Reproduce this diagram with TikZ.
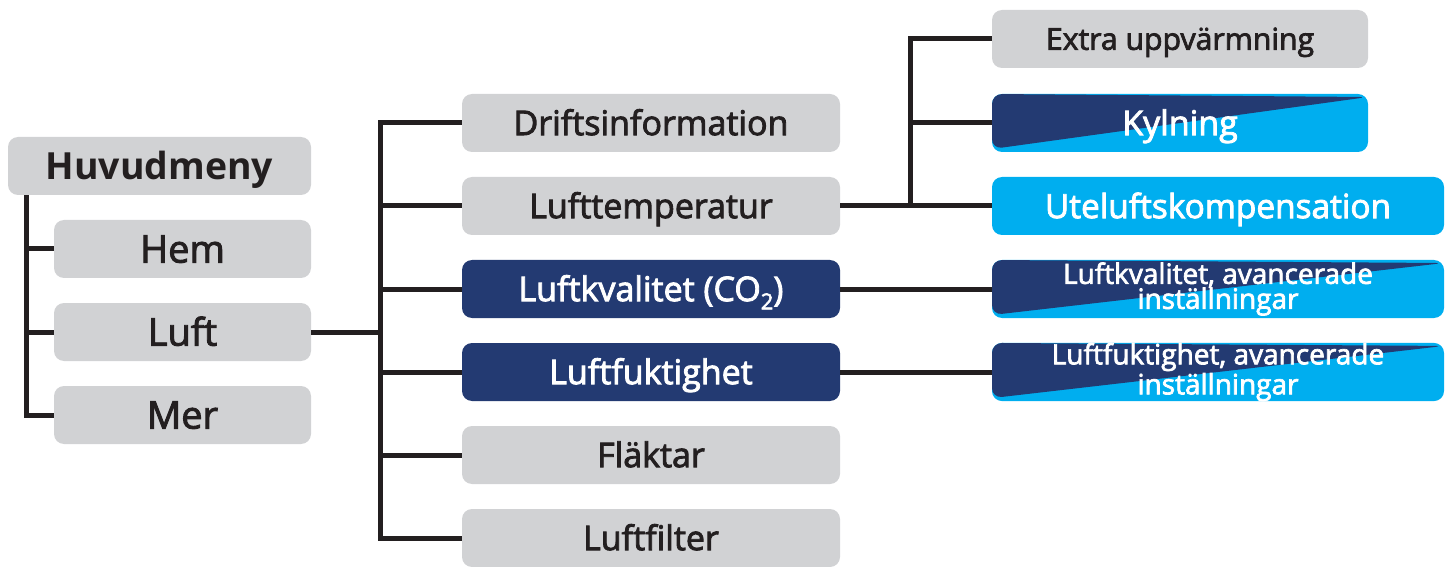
\documentclass[tikz,border=0pt]{standalone}
\usepackage{fontspec}
\setmainfont{Open Sans}
\newfontfamily\semib{Open Sans}[FakeBold=2.5]
\usetikzlibrary{positioning}
\definecolor{boxgray}{HTML}{D1D2D4}
\definecolor{navy}{HTML}{233A72}
\definecolor{cyanblue}{HTML}{00AEEF}
\definecolor{ink}{HTML}{231F20}

\begin{document}
\begin{tikzpicture}[x=0.5pt, y=-0.5pt,
    menubox/.style={rectangle, rounded corners=5pt, fill=boxgray, text=ink,
        minimum height=29pt, inner sep=0pt, align=center, text depth=0pt},
    darkbox/.style={menubox, fill=navy, text=white},
    lightbox/.style={menubox, fill=cyanblue, text=white},
    splitbox/.style={menubox, fill=cyanblue, text=white,
        path picture={\fill[navy] ([yshift=1.5pt]path picture bounding box.south west)
            -- ([yshift=-1.5pt]path picture bounding box.north east)
            -- (path picture bounding box.north west) -- cycle;}},
    twoline/.style={text height=, text depth=},
    bigtxt/.style={font=\fontsize{19}{20}\semib, text height=13.6pt},
    midtxt/.style={font=\fontsize{17}{18}\semib, text height=12.1pt},
    link/.style={draw=ink, line width=2.5pt}]

    % Fix the canvas to the reference size
    \useasboundingbox (0,0) rectangle (1453,567);

    % Main menu column
    \node[menubox, minimum width=151.5pt, font=\fontsize{18.7}{20}\bfseries, text height=13.4pt] (huv) at (159.5,166) {Huvudmeny};
    \node[menubox, minimum width=128.5pt, bigtxt] (hem) at (182.5,249) {Hem};
    \node[menubox, minimum width=128.5pt, bigtxt] (luft) at (182.5,332) {Luft};
    \node[menubox, minimum width=128.5pt, bigtxt] (mer) at (182.5,415) {Mer};

    % Spine of the main menu
    \draw[link] ([xshift=9.5pt]huv.south west) |- (mer.west);
    \foreach \n in {hem, luft}
        \draw[link] ([xshift=9.5pt]huv.south west |- \n.west) -- (\n.west);

    % Sub menu of Luft
    \node[menubox, minimum width=189pt, midtxt] (drift) at (651,123) {Driftsinformation};
    \node[menubox, minimum width=189pt, midtxt] (temp) at (651,206) {Lufttemperatur};
    \node[darkbox, minimum width=189pt, midtxt] (kval) at (651,289)
        {Luftkvalitet (CO{\fontsize{11}{11}\selectfont\raisebox{-0.7ex}{2}})};
    \node[darkbox, minimum width=189pt, midtxt] (fukt) at (651,372) {Luftfuktighet};
    \node[menubox, minimum width=189pt, midtxt] (flakt) at (651,455) {Fläktar};
    \node[menubox, minimum width=189pt, midtxt] (filter) at (651,538) {Luftfilter};

    \coordinate (luftsp) at (380,332);
    \draw[link] (luft.east) -- (luftsp);
    \draw[link] (drift.west) -| (luftsp |- filter.west) -- (filter.west);
    \foreach \n in {temp, kval, fukt, flakt}
        \draw[link] (luftsp |- \n.west) -- (\n.west);

    % Sub menu of Lufttemperatur
    \node[menubox, minimum width=188pt, font=\fontsize{15.1}{16}\semib, text height=10.8pt] (extra) at (1180,39) {Extra uppvärmning};
    \node[splitbox, minimum width=188pt, midtxt] (kyl) at (1180,123) {Kylning};
    \node[lightbox, minimum width=226pt, midtxt, font=\fontsize{16.7}{18}\semib] (ute) at (1218,206) {Uteluftskompensation};

    \coordinate (tempsp) at (910,206);
    \draw[link] (temp.east) -- (ute.west);
    \draw[link] (extra.west) -| (tempsp);
    \draw[link] (tempsp |- kyl.west) -- (kyl.west);

    % Advanced settings
    \node[splitbox, twoline, minimum width=226pt, font=\fontsize{14}{12.5}\semib] (kvaladv) at (1218,289) {Luftkvalitet, avancerade\\inställningar};
    \node[splitbox, twoline, minimum width=226pt, font=\fontsize{14}{12.5}\semib] (fuktadv) at (1218,372) {Luftfuktighet, avancerade\\inställningar};
    \draw[link] (kval.east) -- (kvaladv.west);
    \draw[link] (fukt.east) -- (fuktadv.west);

\end{tikzpicture}
\end{document}
